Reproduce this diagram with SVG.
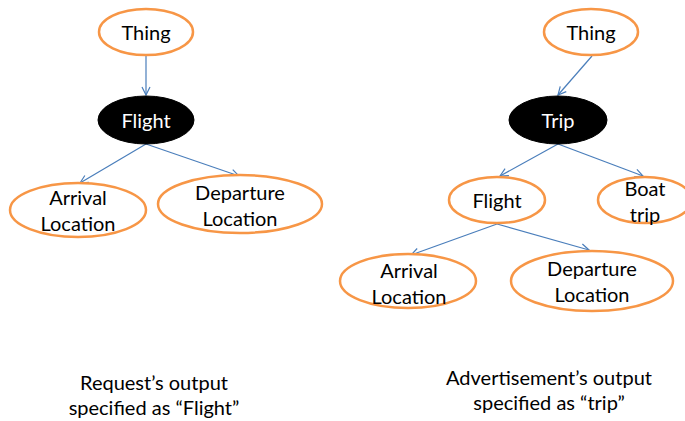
<svg xmlns="http://www.w3.org/2000/svg" width="685" height="421" viewBox="0 0 685 421">
<defs>
<style>
.n{fill:#fff;stroke:#F79646;stroke-width:2.5}
.b{fill:#000;stroke:#000;stroke-width:1}
text{font-family:Lato,"Open Sans",sans-serif;font-size:20px;text-anchor:middle;fill:#000}
.w{fill:#fff}
.e{stroke:#4A7EBB;stroke-width:1.2;fill:none;marker-end:url(#a)}
</style>
<marker id="a" viewBox="0 0 10 10" refX="9" refY="5" markerWidth="10" markerHeight="10" markerUnits="userSpaceOnUse" orient="auto">
<path d="M1,1 L9,5 L1,9" fill="none" stroke="#4A7EBB" stroke-width="1.2"/>
</marker>
</defs>
<rect width="685" height="421" fill="#fff"/>
<g id="edges">
<line class="e" x1="146" y1="56" x2="146" y2="95"/>
<line class="e" x1="146" y1="144" x2="80" y2="183"/>
<line class="e" x1="146" y1="144" x2="239" y2="176"/>
<line class="e" x1="592" y1="56" x2="558" y2="95"/>
<line class="e" x1="558" y1="144" x2="500" y2="176"/>
<line class="e" x1="558" y1="144" x2="643" y2="176"/>
<line class="e" x1="497" y1="224" x2="411" y2="255"/>
<line class="e" x1="497" y1="224" x2="589" y2="250"/>
</g>
<g id="l-thing"><ellipse class="n" cx="146" cy="32" rx="47" ry="23"/><text x="146" y="40">Thing</text></g>
<g id="l-flight"><ellipse class="b" cx="146" cy="120" rx="48" ry="24"/><text class="w" x="146" y="128">Flight</text></g>
<g id="l-arrival"><ellipse class="n" cx="78" cy="210" rx="68" ry="27"/><text x="78" y="205">Arrival</text><text x="78" y="231">Location</text></g>
<g id="l-departure"><ellipse class="n" cx="240" cy="204" rx="82" ry="29"/><text x="240" y="200">Departure</text><text x="240" y="226">Location</text></g>
<g id="r-thing"><ellipse class="n" cx="591" cy="32" rx="47" ry="23"/><text x="591" y="40">Thing</text></g>
<g id="r-trip"><ellipse class="b" cx="558" cy="120" rx="49" ry="24"/><text class="w" x="558" y="128">Trip</text></g>
<g id="r-flight"><ellipse class="n" cx="497" cy="200" rx="48" ry="23"/><text x="497" y="208">Flight</text></g>
<g id="r-boat"><ellipse class="n" cx="645" cy="200" rx="47" ry="23"/><text x="645" y="196">Boat</text><text x="645" y="222">trip</text></g>
<g id="r-arrival"><ellipse class="n" cx="408" cy="281" rx="68" ry="27"/><text x="409" y="278">Arrival</text><text x="409" y="304">Location</text></g>
<g id="r-departure"><ellipse class="n" cx="592" cy="281" rx="81" ry="30"/><text x="592" y="276">Departure</text><text x="592" y="302">Location</text></g>
<g id="captions">
<text x="154" y="390">Request’s output</text>
<text x="154" y="415">specified as “Flight”</text>
<text x="549" y="385">Advertisement’s output</text>
<text x="549" y="410">specified as “trip”</text>
</g>
</svg>
